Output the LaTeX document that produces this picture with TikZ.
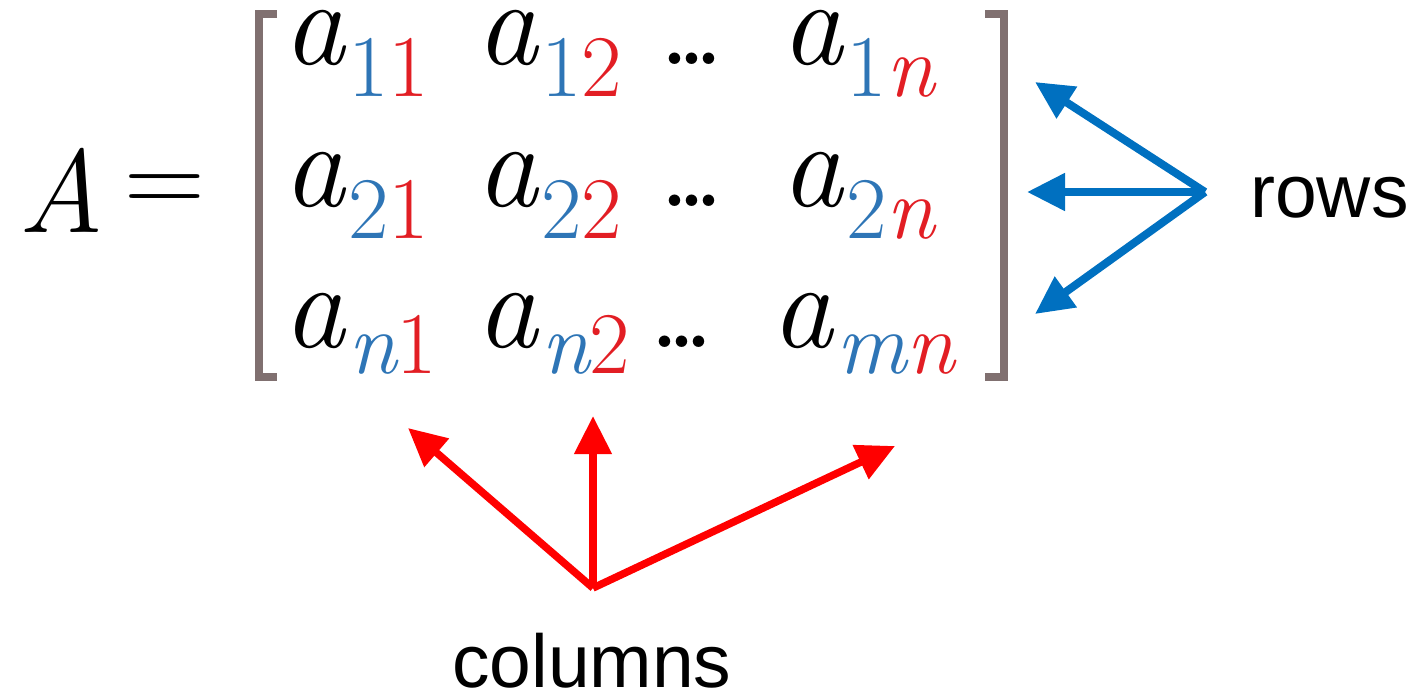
\documentclass[tikz,border=0pt]{standalone}
\usepackage{fontspec}
\setsansfont{Liberation Sans}
\usetikzlibrary{arrows.meta}
\definecolor{subblue}{RGB}{46,117,182}
\definecolor{subred}{RGB}{226,30,36}
\definecolor{arrblue}{RGB}{0,112,192}
\definecolor{arrred}{RGB}{255,0,0}
\definecolor{brack}{RGB}{128,112,112}
\newcommand{\bigit}{\fontsize{123}{123}\selectfont\itshape}
\newcommand{\subsz}{\fontsize{88}{88}\selectfont}
\newcommand{\ent}[3]{{\bigit a}\kern4pt\raisebox{-#3pt}{\subsz\textcolor{subblue}{#1}\textcolor{subred}{#2}}}
\newcommand{\mydots}{.\kern-8pt.\kern-8pt.}
\tikzset{
  entry/.style={inner sep=0pt, outer sep=0pt, anchor=base west},
  dotsnode/.style={inner sep=0pt, anchor=base west, font=\fontsize{80}{80}\selectfont\bfseries},
  label/.style={inner sep=0pt, anchor=base west, font=\sffamily\fontsize{75}{75}\selectfont},
  bracket/.style={draw=brack, line width=8pt},
  bluearrow/.style={draw=arrblue, line width=8pt, -{Triangle[length=38pt,width=36pt]}},
  redarrow/.style={draw=arrred, line width=7.5pt, -{Triangle[length=38pt,width=36pt]}}
}
\begin{document}
\begin{tikzpicture}[x=1pt,y=-1pt]
\useasboundingbox (0,0) rectangle (1427,691);
% A =
\node[entry] (A) at (18,232) {\fontsize{118}{118}\selectfont\itshape A};
\node[inner sep=0pt] (eq) at (165,195) {\fontsize{112}{112}\selectfont =};
% brackets
\draw[bracket] (277,14) -- (259,14) -- (259,377) -- (277,377);
\draw[bracket] (985,14) -- (1004,14) -- (1004,377) -- (985,377);
% row 1
\node[entry] (a11) at (283,64) {\ent{1}{1}{32}};
\node[entry] (a12) at (476,64) {\ent{1}{2}{32}};
\node[dotsnode] (d1) at (662,64) {\mydots};
\node[entry] (a1n) at (781,64) {\ent{1}{\itshape n}{32}};
% row 2
\node[entry] (a21) at (283,206) {\ent{2}{1}{32}};
\node[entry] (a22) at (476,206) {\ent{2}{2}{32}};
\node[dotsnode] (d2) at (662,206) {\mydots};
\node[entry] (a2n) at (781,206) {\ent{2}{\itshape n}{32}};
% row 3
\node[entry] (an1) at (283,347) {\ent{\itshape n}{1}{26}};
\node[entry] (an2) at (476,347) {\ent{\itshape n}{2}{26}};
\node[dotsnode] (d3) at (652,347) {\mydots};
\node[entry] (amn) at (771,347) {\ent{\itshape m}{\itshape n}{26}};
% labels
\node[label] (rows) at (1250,217) {rows};
\node[label] (cols) at (452,687) {columns};
% row arrows
\coordinate (rv) at (1205,192);
\coordinate (rt1) at (1035,82);
\coordinate (rt2) at (1027,192);
\coordinate (rt3) at (1035,314);
\draw[bluearrow] (rv) -- (rt1);
\draw[bluearrow] (rv) -- (rt2);
\draw[bluearrow] (rv) -- (rt3);
% column arrows
\coordinate (cv) at (593,588);
\coordinate (ct1) at (408,428);
\coordinate (ct2) at (593,416);
\coordinate (ct3) at (895,446);
\draw[redarrow] (cv) -- (ct1);
\draw[redarrow] (cv) -- (ct2);
\draw[redarrow] (cv) -- (ct3);
\end{tikzpicture}
\end{document}
